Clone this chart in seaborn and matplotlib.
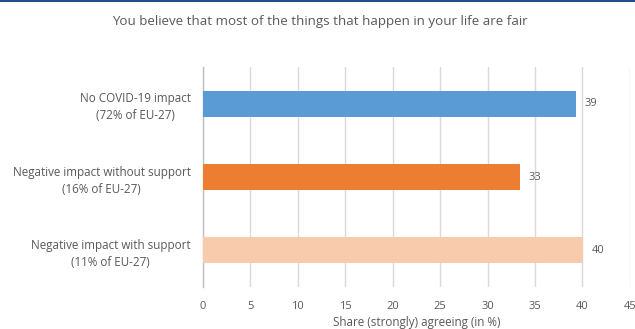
import matplotlib
matplotlib.use("Agg")
import matplotlib.pyplot as plt
import seaborn as sns
import pandas as pd
from matplotlib.lines import Line2D

categories = ["No COVID-19 impact\n(72% of EU-27)",
              "Negative impact without support\n(16% of EU-27)",
              "Negative impact with support\n(11% of EU-27)"]
values = [39.3, 33.4, 40.1]
value_labels = ["39", "33", "40"]
colors = ["#5B9BD5", "#ED7D31", "#F8CBAD"]
xticks = [0, 5, 10, 15, 20, 25, 30, 35, 40, 45]

sns.set_style("white")
plt.rcParams['font.family'] = ['Open Sans', 'DejaVu Sans']
txt = "#595959"

df = pd.DataFrame({"cat": categories, "val": values})
fig = plt.figure(figsize=(6.35, 3.29), dpi=100)
ax = fig.add_axes([0.3197, 0.128, 0.992 - 0.3197, 0.796 - 0.128])
sns.barplot(data=df, x="val", y="cat", hue="cat", palette=colors, legend=False,
            width=0.355, saturation=1, linewidth=0, ax=ax, zorder=3)
ax.set_xlim(0, 45)
ax.set_ylim(2.5, -0.5)
ax.set_xticks(xticks)
ax.set_xticklabels([str(t) for t in xticks], fontsize=8, color=txt)
ax.tick_params(axis="x", length=0, pad=10)
ax.tick_params(axis="y", length=0, pad=9)
for lab in ax.get_yticklabels():
    lab.set_multialignment("center")
    lab.set_linespacing(1.4)
    lab.set_fontsize(8.4)
    lab.set_color(txt)
ax.grid(axis="x", color="#D9D9D9", linewidth=1, zorder=0)
for s in ["top", "right", "bottom"]:
    ax.spines[s].set_visible(False)
ax.spines["left"].set_color("#BFBFBF")
ax.spines["left"].set_linewidth(1)
ax.set_ylabel("")
ax.set_xlabel("Share (strongly) agreeing (in %)", fontsize=8.4, color=txt, labelpad=3)

for i, (v, l) in enumerate(zip(values, value_labels)):
    ax.annotate(l, xy=(v, i), xytext=(6, 0), textcoords="offset points",
                va="center", ha="left", fontsize=8, color=txt)

fig.text(0.504, 0.935, "You believe that most of the things that happen in your life are fair",
         ha="center", va="center", fontsize=9.6, color=txt)
fig.add_artist(Line2D([0, 1], [0.998, 0.998], transform=fig.transFigure,
                      color="#1F4E8C", linewidth=1.5))
fig.savefig("out.png", dpi=100)
